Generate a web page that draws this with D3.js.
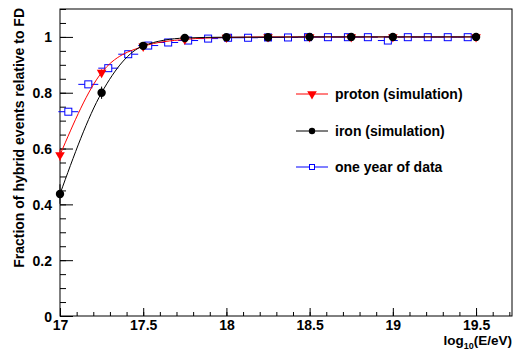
<!DOCTYPE html>
<html>
<head>
<meta charset="utf-8">
<script src="https://d3js.org/d3.v7.min.js"></script>
<style>
  body { margin: 0; background: #fff; }
  text { font-family: "Liberation Sans", Arial, Helvetica, sans-serif; font-weight: bold; }
</style>
</head>
<body>
<div id="chart"></div>
<script>
// simulation energy bins (log10 E/eV)
var simE = [17.0, 17.25, 17.5, 17.75, 18.0, 18.25, 18.5, 18.75, 19.0, 19.5];
var protonFrac = [0.577, 0.872, 0.966, 0.991, 0.998, 1.0, 1.0, 1.0, 1.0, 1.0];
var protonErr  = [0.02, 0.012, 0.005, 0.003, 0.002, 0.001, 0.001, 0.001, 0.001, 0.001];
var ironFrac   = [0.437, 0.80, 0.968, 0.996, 0.999, 0.999, 1.0, 1.0, 1.0, 1.0];
var ironErr    = [0.035, 0.022, 0.006, 0.003, 0.002, 0.001, 0.001, 0.001, 0.001, 0.001];

// one year of data
var dataE = [17.05, 17.17, 17.29, 17.41, 17.53, 17.65, 17.77, 17.89, 18.01, 18.13, 18.25,
             18.37, 18.49, 18.61, 18.73, 18.85, 18.97, 19.09, 19.21, 19.33, 19.45];
var dataFrac = [0.732, 0.83, 0.888, 0.938, 0.969, 0.98, 0.987, 0.994, 0.997, 0.997, 0.998,
                0.998, 0.999, 0.999, 0.999, 0.999, 0.987, 0.999, 0.999, 0.999, 0.999];
var dataErr = [0.012, 0.008, 0.007, 0.005, 0.004, 0.003, 0.003, 0.002, 0.002, 0.002, 0.002,
               0.002, 0.001, 0.001, 0.001, 0.001, 0.004, 0.001, 0.001, 0.001, 0.001];
var dataHalfBin = 0.06;

var yTicks = [0, 0.2, 0.4, 0.6, 0.8, 1];
var yTickLabels = ["0", "0.2", "0.4", "0.6", "0.8", "1"];
var xTicks = [17, 17.5, 18, 18.5, 19, 19.5];
var xTickLabels = ["17", "17.5", "18", "18.5", "19", "19.5"];

var legendNames = ["proton (simulation)", "iron (simulation)", "one year of data"];

var W = 513, H = 351;
var svg = d3.select("#chart").append("svg")
    .attr("width", W).attr("height", H);

var x = d3.scaleLinear().domain([17, 19.716]).range([60, 512]);
var y = d3.scaleLinear().domain([0, 1.1]).range([316, 9]);

// frame
svg.append("rect")
    .attr("x", x(17)).attr("y", y(1.1))
    .attr("width", x(19.716) - x(17)).attr("height", y(0) - y(1.1))
    .attr("fill", "none").attr("stroke", "#000").attr("stroke-width", 1);

// y axis, ticks pointing inward
var yMinor = d3.range(0, 1.1001, 0.05);
svg.append("g")
    .attr("transform", "translate(" + x(17) + ",0)")
    .call(d3.axisLeft(y).tickValues(yMinor).tickSize(-6).tickFormat(""))
    .call(function(g) { g.select(".domain").remove(); });
svg.append("g")
    .attr("transform", "translate(" + x(17) + ",0)")
    .call(d3.axisLeft(y).tickValues(yTicks).tickSize(-13).tickPadding(8)
        .tickFormat(function(d, i) { return yTickLabels[i]; }))
    .call(function(g) {
      g.select(".domain").remove();
      g.selectAll("text").attr("font-size", 14).attr("font-family", null).attr("dy", "0.36em");
    });

// x axis
var xMinor = d3.range(17, 19.71, 0.1);
svg.append("g")
    .attr("transform", "translate(0," + y(0) + ")")
    .call(d3.axisBottom(x).tickValues(xMinor).tickSize(-4).tickFormat(""))
    .call(function(g) { g.select(".domain").remove(); });
svg.append("g")
    .attr("transform", "translate(0," + y(0) + ")")
    .call(d3.axisBottom(x).tickValues(xTicks).tickSize(-8).tickPadding(4)
        .tickFormat(function(d, i) { return xTickLabels[i]; }))
    .call(function(g) {
      g.select(".domain").remove();
      g.selectAll("text").attr("font-size", 14).attr("font-family", null);
    });
svg.selectAll(".tick line").attr("stroke", "#000");

// axis titles
svg.append("text")
    .attr("transform", "translate(24,8) rotate(-90)")
    .attr("text-anchor", "end")
    .attr("font-size", 14)
    .text("Fraction of hybrid events relative to FD");

var xt = svg.append("text")
    .attr("x", 512).attr("y", 345)
    .attr("text-anchor", "end")
    .attr("font-size", 13.5);
xt.append("tspan").text("log");
xt.append("tspan").attr("font-size", 9).attr("dy", 4).text("10");
xt.append("tspan").attr("dy", -4).text("(E/eV)");

var line = d3.line()
    .x(function(d) { return x(d[0]); })
    .y(function(d) { return y(d[1]); })
    .curve(d3.curveMonotoneX);

var tri = d3.symbol().type(d3.symbolTriangle).size(40);

// data: blue squares with bin-width error bars
var gd = svg.append("g");
dataE.forEach(function(e, i) {
  gd.append("line")
      .attr("x1", x(e - dataHalfBin)).attr("x2", x(e + dataHalfBin))
      .attr("y1", y(dataFrac[i])).attr("y2", y(dataFrac[i]))
      .attr("stroke", "#0000ff").attr("stroke-width", 1);
  gd.append("line")
      .attr("x1", x(e)).attr("x2", x(e))
      .attr("y1", y(dataFrac[i] - dataErr[i])).attr("y2", y(dataFrac[i] + dataErr[i]))
      .attr("stroke", "#0000ff").attr("stroke-width", 1);
  gd.append("rect")
      .attr("x", x(e) - 3.5).attr("y", y(dataFrac[i]) - 3.5)
      .attr("width", 7).attr("height", 7)
      .attr("fill", "#fff").attr("stroke", "#0000ff").attr("stroke-width", 1);
});

// proton
var protonPts = simE.map(function(e, i) { return [e, protonFrac[i]]; });
svg.append("path").datum(protonPts).attr("d", line)
    .attr("fill", "none").attr("stroke", "#ff0000").attr("stroke-width", 1);
simE.forEach(function(e, i) {
  svg.append("line")
      .attr("x1", x(e)).attr("x2", x(e))
      .attr("y1", y(protonFrac[i] - protonErr[i])).attr("y2", y(protonFrac[i] + protonErr[i]))
      .attr("stroke", "#ff0000");
  svg.append("path")
      .attr("d", tri)
      .attr("transform", "translate(" + x(e) + "," + y(protonFrac[i]) + ") rotate(180)")
      .attr("fill", "#ff0000");
});

// iron
var ironPts = simE.map(function(e, i) { return [e, ironFrac[i]]; });
svg.append("path").datum(ironPts).attr("d", line)
    .attr("fill", "none").attr("stroke", "#000").attr("stroke-width", 1);
simE.forEach(function(e, i) {
  svg.append("line")
      .attr("x1", x(e)).attr("x2", x(e))
      .attr("y1", y(ironFrac[i] - ironErr[i])).attr("y2", y(ironFrac[i] + ironErr[i]))
      .attr("stroke", "#000");
  svg.append("circle")
      .attr("cx", x(e)).attr("cy", y(ironFrac[i])).attr("r", 4.2)
      .attr("fill", "#000");
});

// legend
var legColors = ["#ff0000", "#000", "#0000ff"];
var legY = [94, 131, 167];
legendNames.forEach(function(name, i) {
  var g = svg.append("g").attr("transform", "translate(0," + legY[i] + ")");
  g.append("line").attr("x1", 296).attr("x2", 328).attr("y1", 0).attr("y2", 0)
      .attr("stroke", legColors[i]);
  if (i === 0) {
    g.append("path").attr("d", tri)
        .attr("transform", "translate(312,0) rotate(180)").attr("fill", legColors[i]);
  } else if (i === 1) {
    g.append("circle").attr("cx", 312).attr("cy", 0).attr("r", 3.2).attr("fill", "#000");
  } else {
    g.append("rect").attr("x", 309.5).attr("y", -2.5).attr("width", 5).attr("height", 5)
        .attr("fill", "#fff").attr("stroke", legColors[i]);
  }
  g.append("text").attr("x", 335).attr("y", 5).attr("font-size", 14).text(name);
});
</script>
</body>
</html>
